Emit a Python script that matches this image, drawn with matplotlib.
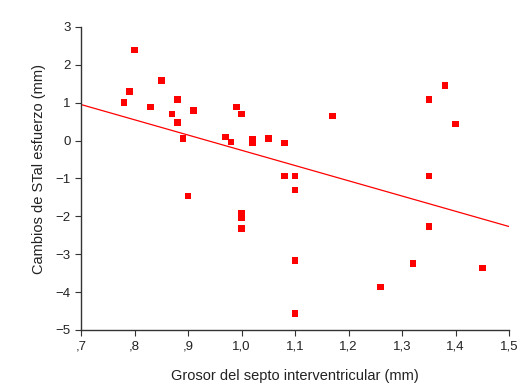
import matplotlib
matplotlib.use("Agg")
import matplotlib.pyplot as plt

plt.rcParams['font.family'] = ['Liberation Sans', 'DejaVu Sans']

septo = [0.78, 0.79, 0.80, 0.83, 0.85, 0.87, 0.88, 0.88, 0.89, 0.91,
         0.97, 0.98, 0.99, 1.00, 1.02, 1.02, 1.05, 1.08, 1.08,
         1.17, 1.35, 1.38, 1.40, 1.35, 1.10,
         0.90, 1.00, 1.00, 1.00,
         1.10, 1.35, 1.10, 1.32, 1.45, 1.26, 1.10]
st_cambio = [1.00, 1.30, 2.39, 0.88, 1.59, 0.70, 1.09, 0.48, 0.06, 0.79,
             0.09, -0.04, 0.88, 0.70, 0.04, -0.06, 0.05, -0.06, -0.94,
             0.65, 1.09, 1.45, 0.44, -0.94, -0.94,
             -1.47, -1.91, -2.05, -2.32,
             -1.30, -2.27, -3.16, -3.25, -3.37, -3.86, -4.57]

fit_x = [0.7, 1.5]
fit_y = [0.95, -2.27]

x_ticks = [0.7, 0.8, 0.9, 1.0, 1.1, 1.2, 1.3, 1.4, 1.5]
x_labels = [",7", ",8", ",9", "1,0", "1,1", "1,2", "1,3", "1,4", "1,5"]
y_ticks = [-5, -4, -3, -2, -1, 0, 1, 2, 3]

fig = plt.figure(figsize=(5.2, 3.9), dpi=100)
ax = fig.add_axes([0.156, 0.154, 0.823, 0.777])

ax.plot(fit_x, fit_y, color='#ff0000', lw=0.9, zorder=2)
ax.scatter(septo, st_cambio, marker='s', s=22, color='#ff0000', edgecolors='none', zorder=3)

ax.set_xlim(0.7, 1.5)
ax.set_ylim(-5, 3)
ax.set_xticks(x_ticks)
ax.set_xticklabels(x_labels)
ax.set_yticks(y_ticks)

for s in ['top', 'right']:
    ax.spines[s].set_visible(False)
for s in ['left', 'bottom']:
    ax.spines[s].set_color('#333333')
    ax.spines[s].set_linewidth(1.0)
ax.tick_params(direction='out', length=4, width=0.8, colors='#333333', labelsize=9.5, labelcolor='#222222')

ax.set_xlabel("Grosor del septo interventricular (mm)", fontsize=10.5, color='#222222', labelpad=12)
ax.set_ylabel("Cambios de STal esfuerzo (mm)", fontsize=10.5, color='#222222')
ax.yaxis.set_label_coords(-0.083, 0.53)

fig.savefig("out.png", dpi=100)
